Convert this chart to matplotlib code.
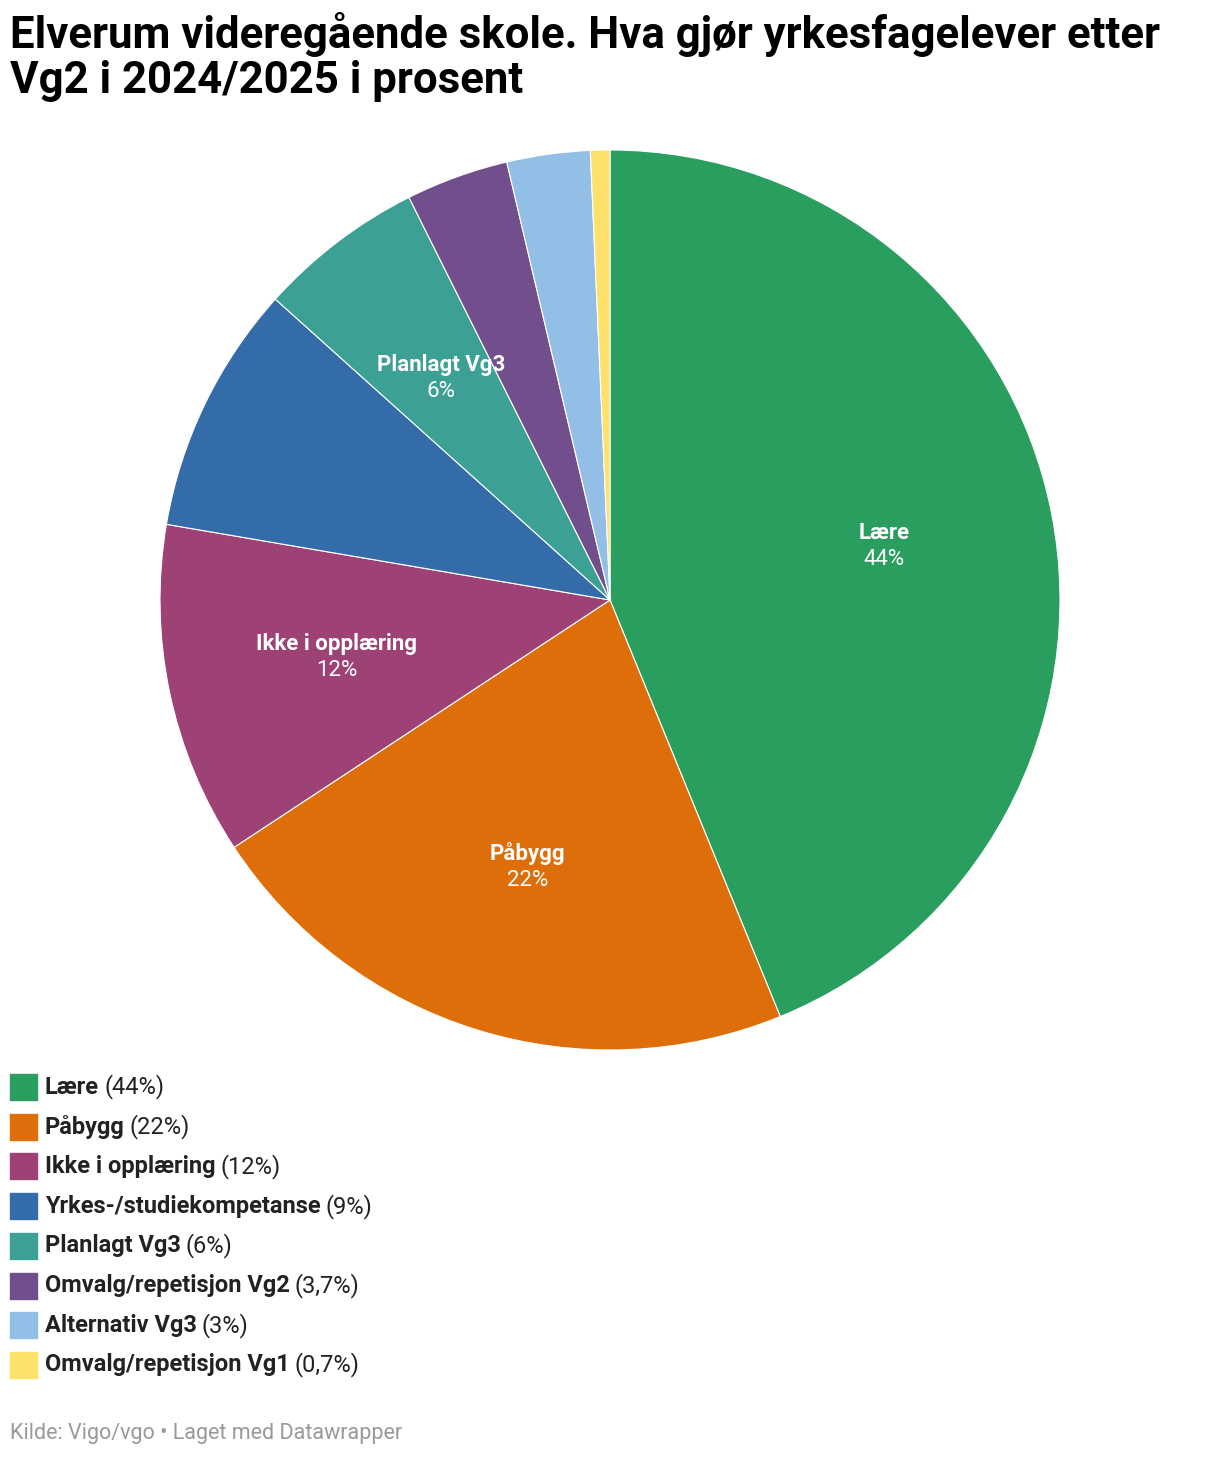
import matplotlib
matplotlib.use("Agg")
import matplotlib.pyplot as plt
import numpy as np

categories = ["Lære", "Påbygg", "Ikke i opplæring", "Yrkes-/studiekompetanse",
              "Planlagt Vg3", "Omvalg/repetisjon Vg2", "Alternativ Vg3", "Omvalg/repetisjon Vg1"]
values = [44, 22, 12, 9, 6, 3.7, 3, 0.7]
pct_labels = ["44%", "22%", "12%", "9%", "6%", "3,7%", "3%", "0,7%"]
colors = ["#2a9e5f", "#dd6e0a", "#9e4174", "#336ca8", "#3ca194", "#714f8c", "#93bfe7", "#fde16a"]
show_label = [True, True, True, False, True, False, False, False]

plt.rcParams['font.family'] = ['Roboto', 'DejaVu Sans']
W, H = 1220, 1458
fig = plt.figure(figsize=(W/100, H/100), dpi=100)

fig.text(10/W, 1-12/H, "Elverum videregående skole. Hva gjør yrkesfagelever etter\nVg2 i 2024/2025 i prosent",
         fontsize=31.5, fontweight='bold', va='top', ha='left', linespacing=1.1)

ax = fig.add_axes([160/W, (H-1050)/H, 900/W, 900/H])
wedges, _ = ax.pie(values, colors=colors, startangle=90, counterclock=False,
                   wedgeprops=dict(edgecolor='white', linewidth=0.8))
ax.set_xlim(-1, 1)
ax.set_ylim(-1, 1)
ax.set_aspect('equal')
for w, c, p, s in zip(wedges, categories, pct_labels, show_label):
    if not s:
        continue
    a = np.deg2rad((w.theta1 + w.theta2) / 2)
    x, y = 0.62*np.cos(a), 0.62*np.sin(a)
    ax.text(x, y+0.03, c, ha='center', va='center', color='white', fontsize=16, fontweight='bold')
    ax.text(x, y-0.03, p, ha='center', va='center', color='white', fontsize=16)

fig.canvas.draw()
r = fig.canvas.get_renderer()
for i, (c, p, col) in enumerate(zip(categories, pct_labels, colors)):
    yc = 1087 + i*39.7
    fig.patches.append(plt.Rectangle((10/W, (H-yc-13)/H), 27/W, 26/H, color=col, transform=fig.transFigure))
    t = fig.text(45/W, 1-yc/H, c, fontsize=17, fontweight='bold', va='center', ha='left', color='#222222')
    bb = t.get_window_extent(r)
    fig.text((bb.x1+5)/W, 1-yc/H, f"({p})", fontsize=17, va='center', ha='left', color='#222222')

fig.text(10/W, 1-1434/H, "Kilde: Vigo/vgo • Laget med Datawrapper", fontsize=15.5, color='#999999', va='center')
fig.savefig("out.png", dpi=100)
